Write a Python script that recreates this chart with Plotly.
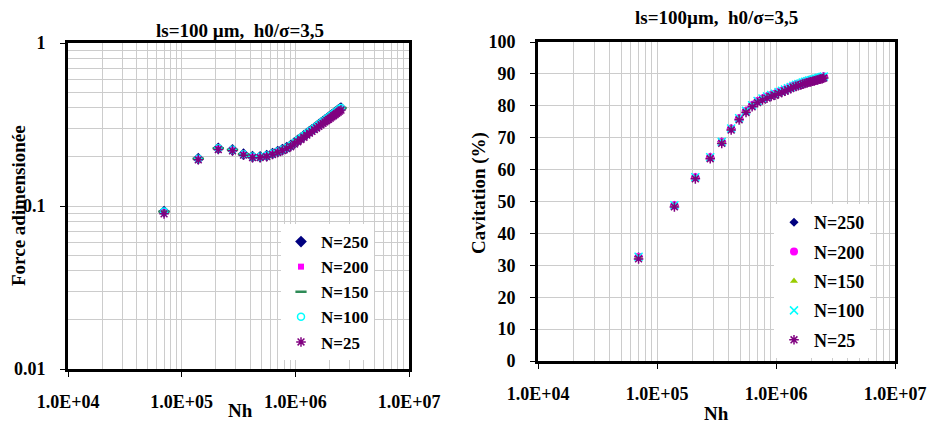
import plotly.graph_objects as go

# ---------------- data ----------------
nh = [70000, 140000, 210000, 280000, 350000, 420000, 490000, 560000, 630000,
      700000, 770000, 840000, 910000, 980000, 1050000, 1120000, 1190000, 1260000,
      1330000, 1400000, 1470000, 1540000, 1610000, 1680000, 1750000, 1820000,
      1890000, 1960000, 2030000, 2100000, 2170000, 2240000, 2310000, 2380000,
      2450000, 2520000]

force_n250 = [0.0925, 0.195, 0.226, 0.221, 0.208, 0.201, 0.2005, 0.204, 0.210,
              0.216, 0.222, 0.228, 0.235, 0.244, 0.253, 0.261, 0.270, 0.278,
              0.286, 0.293, 0.301, 0.308, 0.316, 0.323, 0.330, 0.336, 0.343,
              0.350, 0.356, 0.362, 0.369, 0.375, 0.381, 0.387, 0.393, 0.399]
force_n200 = force_n250
force_n150 = force_n250
force_n100 = force_n250
force_n25 = [0.0895, 0.192, 0.222, 0.218, 0.205, 0.198, 0.198, 0.201, 0.207,
             0.213, 0.219, 0.225, 0.231, 0.240, 0.248, 0.256, 0.264, 0.272,
             0.280, 0.287, 0.294, 0.301, 0.308, 0.315, 0.321, 0.328, 0.334,
             0.340, 0.346, 0.352, 0.358, 0.364, 0.370, 0.376, 0.382, 0.388]

cav_n250 = [32.7, 48.8, 57.6, 63.9, 68.7, 72.9, 76.1, 78.4, 80.2, 81.5, 82.3,
            82.9, 83.4, 83.8, 84.3, 84.7, 85.1, 85.5, 85.9, 86.3, 86.6, 86.8,
            87.0, 87.3, 87.5, 87.7, 87.9, 88.0, 88.2, 88.3, 88.5, 88.6, 88.8,
            88.9, 89.0, 89.2]
cav_n200 = cav_n250
cav_n150 = cav_n250
cav_n100 = cav_n250
cav_n25 = [32.0, 48.3, 57.1, 63.4, 68.2, 72.4, 75.6, 77.9, 79.7, 81.0, 81.8,
           82.4, 82.9, 83.3, 83.8, 84.2, 84.6, 85.0, 85.4, 85.8, 86.1, 86.3,
           86.5, 86.8, 87.0, 87.2, 87.4, 87.5, 87.7, 87.8, 88.0, 88.1, 88.3,
           88.4, 88.5, 88.7]

x_tickvals = [1e4, 1e5, 1e6, 1e7]
x_ticktext = ["1.0E+04", "1.0E+05", "1.0E+06", "1.0E+07"]
fy_tickvals = [0.01, 0.1, 1]
fy_ticktext = ["0.01", "0.1", "1"]

title_left = "ls=100 µm,  h0/σ=3,5"
title_right = "ls=100µm,  h0/σ=3,5"

# ---------------- style ----------------
FONT = "Liberation Serif"
GRID = "#CCCCCC"
W, H = 929, 424


def px(x):  # screen pixel -> paper x
    return x / W


def py(y):  # screen pixel -> paper y
    return 1 - y / H


def minor_log(lo, hi):
    vals = []
    d = lo
    while d < hi:
        for m in range(2, 10):
            vals.append(m * d)
        d *= 10
    return vals


fig = go.Figure()

left_series = [
    ("N=250", force_n250, dict(symbol="diamond", size=9, color="#000080")),
    ("N=200", force_n200, dict(symbol="square", size=6, color="#FF00FF")),
    ("N=150", force_n150, dict(symbol="line-ew-open", size=8, color="#2E8B57",
                               line=dict(width=2.5, color="#2E8B57"))),
    ("N=100", force_n100, dict(symbol="circle-open", size=7, color="#00FFFF",
                               line=dict(width=1.5, color="#00FFFF"))),
    ("N=25", force_n25, dict(symbol="asterisk-open", size=8, color="#800080",
                             line=dict(width=1.5, color="#800080"))),
]
for name, ys, mk in left_series:
    fig.add_trace(go.Scatter(x=nh, y=ys, mode="markers", name=name, marker=mk,
                             xaxis="x", yaxis="y", legend="legend"))

right_series = [
    ("N=250", cav_n250, dict(symbol="diamond", size=7, color="#000080")),
    ("N=200", cav_n200, dict(symbol="circle", size=8, color="#FF00FF")),
    ("N=150", cav_n150, dict(symbol="triangle-up", size=7, color="#99CC00")),
    ("N=100", cav_n100, dict(symbol="x-thin-open", size=8, color="#00FFFF",
                             line=dict(width=1.5, color="#00FFFF"))),
    ("N=25", cav_n25, dict(symbol="asterisk-open", size=8, color="#800080",
                           line=dict(width=1.5, color="#800080"))),
]
for name, ys, mk in right_series:
    fig.add_trace(go.Scatter(x=nh, y=ys, mode="markers", name=name, marker=mk,
                             xaxis="x2", yaxis="y2", legend="legend2",
                             legendgroup="R" + name))

tickfont = dict(family=FONT, size=18, color="black", weight="bold")
axis_common = dict(showline=True, linewidth=3, linecolor="black", mirror=True,
                   showgrid=True, gridcolor=GRID, gridwidth=1, zeroline=False,
                   ticks="outside", ticklen=5, tickwidth=1, tickcolor="black",
                   tickfont=tickfont, automargin=False, ticklabeloverflow="allow")

fig.update_layout(
    width=W, height=H,
    margin=dict(l=0, r=0, t=0, b=0, autoexpand=False),
    paper_bgcolor="white", plot_bgcolor="white",
    font=dict(family=FONT, color="black"),
    xaxis=dict(axis_common, type="log", range=[4, 7],
               domain=[px(68), px(409)], anchor="y",
               tickvals=x_tickvals, ticktext=x_ticktext, ticklabelstandoff=9,
               minor=dict(tickvals=minor_log(1e4, 1e7), showgrid=True,
                          gridcolor=GRID, gridwidth=1, ticks="")),
    yaxis=dict(axis_common, type="log", range=[-2, 0],
               domain=[py(369), py(43)], anchor="x",
               tickvals=fy_tickvals, ticktext=fy_ticktext, ticklabelstandoff=11,
               minor=dict(tickvals=minor_log(0.01, 1), showgrid=True,
                          gridcolor=GRID, gridwidth=1, ticks="")),
    xaxis2=dict(axis_common, type="log", range=[4, 7],
                domain=[px(538), px(895)], anchor="y2",
                tickvals=x_tickvals, ticktext=x_ticktext, ticklabelstandoff=9,
                minor=dict(tickvals=minor_log(1e4, 1e7), showgrid=True,
                           gridcolor=GRID, gridwidth=1, ticks="")),
    yaxis2=dict(axis_common, range=[0, 100], dtick=10,
                domain=[py(361), py(42)], anchor="x2",
                ticklabelstandoff=11),
    legend=dict(x=px(281), y=py(224), xanchor="left", yanchor="top",
                bgcolor="white", borderwidth=0,
                font=dict(family=FONT, size=17, color="black", weight="bold"),
                itemwidth=30),
    legend2=dict(x=px(774), y=py(204), xanchor="left", yanchor="top",
                 bgcolor="white", borderwidth=0, tracegroupgap=3,
                 font=dict(family=FONT, size=18, color="black", weight="bold"),
                 itemwidth=30),
    showlegend=True,
)

lab_font = dict(family=FONT, size=19, color="black", weight="bold")
fig.add_annotation(text=title_left, x=px(240), y=py(30), xref="paper", yref="paper",
                   xanchor="center", yanchor="middle", showarrow=False, font=lab_font)
fig.add_annotation(text=title_right, x=px(716), y=py(17), xref="paper", yref="paper",
                   xanchor="center", yanchor="middle", showarrow=False, font=lab_font)
fig.add_annotation(text="Nh", x=px(240), y=py(410), xref="paper", yref="paper",
                   xanchor="center", yanchor="middle", showarrow=False, font=lab_font)
fig.add_annotation(text="Nh", x=px(716), y=py(413), xref="paper", yref="paper",
                   xanchor="center", yanchor="middle", showarrow=False, font=lab_font)
fig.add_annotation(text="Force adimensionée", x=px(18), y=py(206), xref="paper",
                   yref="paper", xanchor="center", yanchor="middle", showarrow=False,
                   textangle=-90, font=lab_font)
fig.add_annotation(text="Cavitation (%)", x=px(479), y=py(193), xref="paper",
                   yref="paper", xanchor="center", yanchor="middle", showarrow=False,
                   textangle=-90, font=lab_font)

fig.write_html("out.html",
               config={"displayModeBar": False},
               post_script="document.body.style.margin='0px';"
                           "document.body.style.overflow='hidden';")
